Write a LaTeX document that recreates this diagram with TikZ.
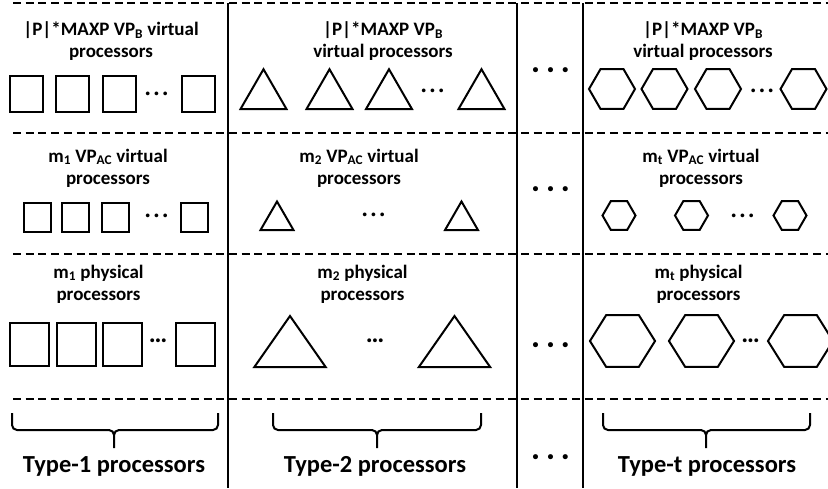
\documentclass[tikz,border=0pt]{standalone}
\usepackage{fontspec}
\setmainfont{Carlito}
\usetikzlibrary{shapes.geometric}

\begin{document}
\begin{tikzpicture}[x=1pt, y=-1pt,
    sq/.style={draw, rectangle, line width=2pt, inner sep=0pt},
    tri/.style={draw, regular polygon, regular polygon sides=3, line width=2pt, inner sep=0pt, outer sep=0pt, anchor=south},
    hexa/.style={draw, regular polygon, regular polygon sides=6, line width=2pt, inner sep=0pt, outer sep=0pt},
    lbl/.style={align=center, inner sep=0pt, font=\fontsize{19}{22}\selectfont\bfseries},
    typ/.style={anchor=base, inner sep=0pt, font=\fontsize{24.5}{28}\selectfont\bfseries},
    dots/.style={inner sep=0pt, font=\fontsize{20}{20}\selectfont\bfseries},
    gap/.style={inner sep=0pt, font=\fontsize{12}{12}\selectfont\bfseries},
    sep/.style={dash pattern=on 8pt off 4.7pt, line width=1.6pt},
    wall/.style={line width=2.2pt},
    brc/.style={line width=2pt, rounded corners=5pt}]

    \useasboundingbox (0,0) rectangle (828,488);

    % Frame: dashed rows and solid column walls
    \draw[sep] (13,3) -- (828,3);
    \draw[sep] (13,133) -- (828,133);
    \draw[sep] (13,254) -- (828,254);
    \draw[sep] (13,399) -- (828,399);
    \draw[wall] (228,3) -- (228,488);
    \draw[wall] (517,3) -- (517,488);
    \draw[wall] (583,3) -- (583,488);

    % Define nodes in the first column (Type-1)
    \node[lbl] (L11) at (111,41) {|P|*MAXP VP\textsubscript{B} virtual\\processors};
    \node[sq, minimum width=33pt, minimum height=36pt] (S11) at (26,93.5) {};
    \node[sq, minimum width=33pt, minimum height=36pt] (S12) at (72.5,93.5) {};
    \node[sq, minimum width=33pt, minimum height=36pt] (S13) at (119,93.5) {};
    \node[dots] (D11) at (156.5,96) {·\,·\,·};
    \node[sq, minimum width=33pt, minimum height=36pt] (S14) at (198,93.5) {};

    \node[lbl] (L12) at (108,168) {m\textsubscript{1} VP\textsubscript{AC} virtual\\processors};
    \node[sq, minimum width=27pt, minimum height=29pt] (S21) at (37,217) {};
    \node[sq, minimum width=27pt, minimum height=29pt] (S22) at (75.5,217) {};
    \node[sq, minimum width=27pt, minimum height=29pt] (S23) at (115.5,217) {};
    \node[dots] (D12) at (156.5,218) {·\,·\,·};
    \node[sq, minimum width=27pt, minimum height=29pt] (S24) at (194.5,217) {};

    \node[lbl] (L13) at (98.5,284) {m\textsubscript{1} physical\\processors};
    \node[sq, minimum width=39pt, minimum height=43pt] (S31) at (29.5,344) {};
    \node[sq, minimum width=39pt, minimum height=43pt] (S32) at (76,344) {};
    \node[sq, minimum width=39pt, minimum height=43pt] (S33) at (122.5,344) {};
    \node[dots, font=\fontsize{26}{26}\selectfont\bfseries] (D13) at (158,341) {…};
    \node[sq, minimum width=39pt, minimum height=43pt] (S34) at (195,344) {};

    % Define nodes in the second column (Type-2)
    \node[lbl] (L21) at (383,41) {|P|*MAXP VP\textsubscript{B}\\virtual processors};
    \node[tri, minimum size=53pt] (T11) at (263.5,109) {};
    \node[tri, minimum size=53pt] (T12) at (329.5,109) {};
    \node[tri, minimum size=53pt] (T13) at (389,109) {};
    \node[dots] (D21) at (432.5,93) {·\,·\,·};
    \node[tri, minimum size=53pt] (T14) at (481.5,109) {};

    \node[lbl] (L22) at (359,168) {m\textsubscript{2} VP\textsubscript{AC} virtual\\processors};
    \node[tri, minimum size=38pt] (T21) at (277,230) {};
    \node[dots] (D22) at (373.5,217) {·\,·\,·};
    \node[tri, minimum size=38pt] (T22) at (461.5,230) {};

    \node[lbl] (L23) at (362.5,284) {m\textsubscript{2} physical\\processors};
    \node[tri, minimum size=68pt, xscale=1.21] (T31) at (290,367) {};
    \node[dots, font=\fontsize{26}{26}\selectfont\bfseries] (D23) at (375,341) {…};
    \node[tri, minimum size=68pt, xscale=1.21] (T32) at (454.5,367) {};

    % Gap column between Type-2 and Type-t
    \node[gap] (G1) at (550.5,71) {•\hspace{9pt}•\hspace{9pt}•};
    \node[gap] (G2) at (550.5,190) {•\hspace{9pt}•\hspace{9pt}•};
    \node[gap] (G3) at (550.5,346) {•\hspace{9pt}•\hspace{9pt}•};
    \node[gap] (G4) at (550.5,458) {•\hspace{9pt}•\hspace{9pt}•};

    % Define nodes in the last column (Type-t)
    \node[lbl] (L41) at (703,41) {|P|*MAXP VP\textsubscript{B}\\virtual processors};
    \node[hexa, minimum size=46pt] (H11) at (612,89) {};
    \node[hexa, minimum size=46pt] (H12) at (664.5,89) {};
    \node[hexa, minimum size=46pt] (H13) at (718,89) {};
    \node[dots] (D41) at (762,93) {·\,·\,·};
    \node[hexa, minimum size=46pt] (H14) at (803.5,89) {};

    \node[lbl] (L42) at (701,168) {m\textsubscript{t} VP\textsubscript{AC} virtual\\processors};
    \node[hexa, minimum size=33pt] (H21) at (619,215.5) {};
    \node[hexa, minimum size=33pt] (H22) at (691.5,215.5) {};
    \node[dots] (D42) at (742.5,218) {·\,·\,·};
    \node[hexa, minimum size=33pt] (H23) at (790,215.5) {};

    \node[lbl] (L43) at (698.5,284) {m\textsubscript{t} physical\\processors};
    \node[hexa, minimum size=60pt, xscale=1.085] (H31) at (622.5,341) {};
    \node[hexa, minimum size=60pt, xscale=1.085] (H32) at (701.5,341) {};
    \node[dots, font=\fontsize{26}{26}\selectfont\bfseries] (D43) at (750.5,341) {…};
    \node[hexa, minimum size=60pt, xscale=1.085] (H33) at (800.5,341) {};

    % Braces under each processor type
    \coordinate (B1l) at (12,413);  \coordinate (B1r) at (218,413);
    \coordinate (B1m) at (114,430); \coordinate (B1t) at (114,448);
    \coordinate (B2l) at (273,413); \coordinate (B2r) at (481,413);
    \coordinate (B2m) at (377,430); \coordinate (B2t) at (377,448);
    \coordinate (B3l) at (603,413); \coordinate (B3r) at (810,413);
    \coordinate (B3m) at (706,430); \coordinate (B3t) at (706,448);
    \draw[brc] (B1l) |- (B1m) -- (B1t) (B1r) |- (B1m) -- (B1t);
    \draw[brc] (B2l) |- (B2m) -- (B2t) (B2r) |- (B2m) -- (B2t);
    \draw[brc] (B3l) |- (B3m) -- (B3t) (B3r) |- (B3m) -- (B3t);

    \node[typ] (P1) at (114,472) {Type-1 processors};
    \node[typ] (P2) at (375,472) {Type-2 processors};
    \node[typ] (P3) at (707,472) {Type-t processors};

\end{tikzpicture}
\end{document}
